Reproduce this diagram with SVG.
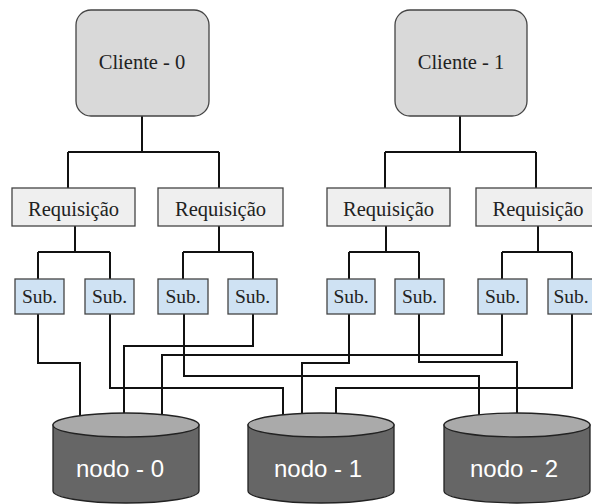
<svg xmlns="http://www.w3.org/2000/svg" width="592" height="504" viewBox="0 0 592 504">
<style>
.client{fill:#d9d9d9;stroke:#444;stroke-width:1.3}
.req{fill:#efefef;stroke:#444;stroke-width:1.3}
.sub{fill:#cfe2f3;stroke:#444;stroke-width:1.3}
.serif{font-family:'Liberation Serif','Times New Roman',serif;fill:#222;text-anchor:middle}
.wire{fill:none;stroke:#111;stroke-width:2;stroke-linejoin:miter}
.cyltop{fill:#aaaaaa;stroke:#222;stroke-width:1.3}
.cylbody{fill:#666666;stroke:#222;stroke-width:1.3}
.nodetext{font-family:'Liberation Sans',Arial,sans-serif;font-size:24px;fill:#ffffff;text-anchor:middle}
</style>
<rect width="592" height="504" fill="#ffffff"/>
<g id="connectors">
<path class="wire" d="M142,116 V152 M68,152 H219 M68,152 V188 M219,152 V188"/>
<path class="wire" d="M460,116 V152 M385,152 H536 M385,152 V188 M536,152 V188"/>
<path class="wire" d="M75,226 V252 M38,252 H110 M38,252 V279 M110,252 V279"/>
<path class="wire" d="M219,226 V252 M183,252 H253 M183,252 V279 M253,252 V279"/>
<path class="wire" d="M386,226 V252 M349,252 H419 M349,252 V279 M419,252 V279"/>
<path class="wire" d="M538,226 V252 M502,252 H572 M502,252 V279 M572,252 V279"/>
<path class="wire" d="M38,314 V363 H80 V425"/>
<path class="wire" d="M110,314 V388 H283 V425"/>
<path class="wire" d="M184,314 V376 H479 V425"/>
<path class="wire" d="M253,314 V346 H124 V425"/>
<path class="wire" d="M349,314 V363 H302 V425"/>
<path class="wire" d="M419,314 V362 H517 V425"/>
<path class="wire" d="M502,314 V355 H162 V425"/>
<path class="wire" d="M572,314 V388 H336 V425"/>
</g>
<g id="cliente-0">
<rect class="client" x="76" y="10" width="133" height="106" rx="15"/>
<text class="serif" x="142" y="69" font-size="20.5">Cliente - 0</text>
</g>
<g id="cliente-1">
<rect class="client" x="395" y="10" width="132" height="106" rx="15"/>
<text class="serif" x="461" y="69" font-size="20.5">Cliente - 1</text>
</g>
<g id="req-0">
<rect class="req" x="12" y="188" width="123" height="38"/>
<text class="serif" x="73.5" y="216" font-size="20.5">Requisição</text>
</g>
<g id="req-1">
<rect class="req" x="158" y="188" width="125" height="38"/>
<text class="serif" x="220.5" y="216" font-size="20.5">Requisição</text>
</g>
<g id="req-2">
<rect class="req" x="327" y="188" width="123" height="38"/>
<text class="serif" x="388.5" y="216" font-size="20.5">Requisição</text>
</g>
<g id="req-3">
<rect class="req" x="476" y="188" width="124" height="38"/>
<text class="serif" x="538" y="216" font-size="20.5">Requisição</text>
</g>
<g id="sub-0"><rect class="sub" x="15" y="279" width="49" height="35"/><text class="serif" x="39.5" y="303" font-size="19.5">Sub.</text></g>
<g id="sub-1"><rect class="sub" x="85" y="279" width="49" height="35"/><text class="serif" x="109.5" y="303" font-size="19.5">Sub.</text></g>
<g id="sub-2"><rect class="sub" x="158" y="279" width="50" height="35"/><text class="serif" x="183" y="303" font-size="19.5">Sub.</text></g>
<g id="sub-3"><rect class="sub" x="228" y="279" width="49" height="35"/><text class="serif" x="252.5" y="303" font-size="19.5">Sub.</text></g>
<g id="sub-4"><rect class="sub" x="327" y="279" width="48" height="35"/><text class="serif" x="351" y="303" font-size="19.5">Sub.</text></g>
<g id="sub-5"><rect class="sub" x="395" y="279" width="49" height="35"/><text class="serif" x="419.5" y="303" font-size="19.5">Sub.</text></g>
<g id="sub-6"><rect class="sub" x="478" y="279" width="49" height="35"/><text class="serif" x="502.5" y="303" font-size="19.5">Sub.</text></g>
<g id="sub-7"><rect class="sub" x="548" y="279" width="49" height="35"/><text class="serif" x="571" y="303" font-size="19.5">Sub.</text></g>
<g id="nodo-0">
<path class="cylbody" d="M53,425 V491 A73,12 0 0 0 199,491 V425 Z"/>
<ellipse class="cyltop" cx="126" cy="425" rx="73" ry="12"/>
<text class="nodetext" x="120" y="477">nodo - 0</text>
</g>
<g id="nodo-1">
<path class="cylbody" d="M248,425 V491 A73,12 0 0 0 394,491 V425 Z"/>
<ellipse class="cyltop" cx="321" cy="425" rx="73" ry="12"/>
<text class="nodetext" x="318" y="477">nodo - 1</text>
</g>
<g id="nodo-2">
<path class="cylbody" d="M444,425 V491 A73,12 0 0 0 590,491 V425 Z"/>
<ellipse class="cyltop" cx="517" cy="425" rx="73" ry="12"/>
<text class="nodetext" x="514" y="477">nodo - 2</text>
</g>
</svg>
